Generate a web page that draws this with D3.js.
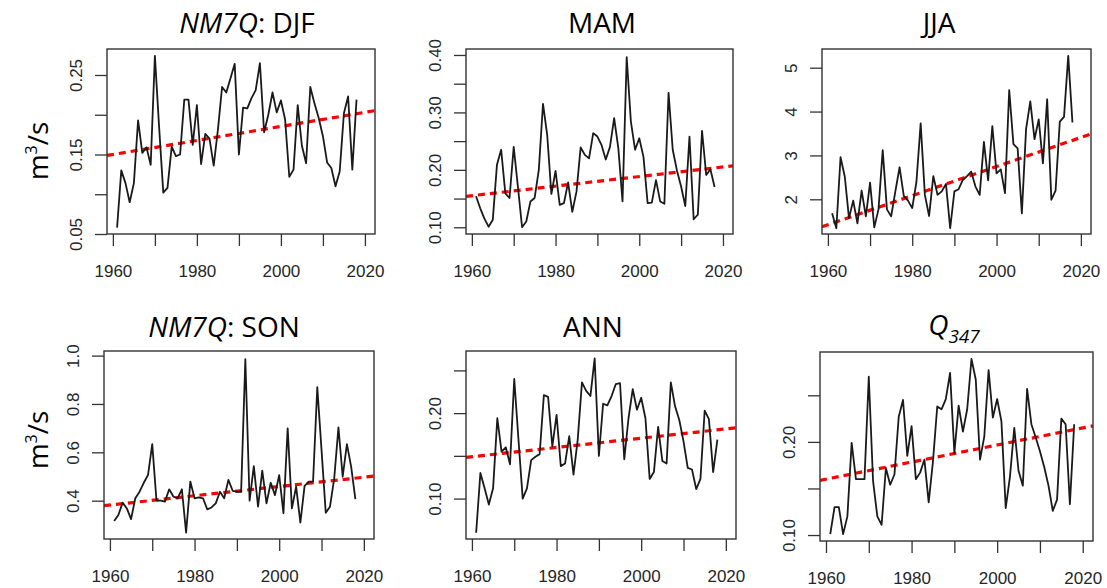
<!DOCTYPE html>
<html>
<head>
<meta charset="utf-8">
<script src="https://cdn.jsdelivr.net/npm/d3@7"></script>
<style>
    body { margin: 0; background: #fff; }
    svg { display: block; }
    .tick line { stroke: #333; stroke-width: 1.3; }
    .tick text { font-family: "Liberation Sans", Arial, sans-serif; font-size: 17px; fill: #262626; }
    .title { font-family: "Open Sans", sans-serif; font-size: 28px; fill: #000; }
</style>
</head>
<body>
<div class="chart"></div>
<script>
const years = d3.range(1961, 2019);

const djf = [0.058, 0.130, 0.114, 0.090, 0.114, 0.193, 0.152, 0.159, 0.137, 0.274,
    0.185, 0.102, 0.108, 0.160, 0.148, 0.150, 0.219, 0.219, 0.162, 0.212,
    0.138, 0.176, 0.170, 0.136, 0.181, 0.235, 0.228, 0.246, 0.264, 0.150,
    0.209, 0.208, 0.221, 0.231, 0.265, 0.178, 0.200, 0.228, 0.203, 0.218,
    0.194, 0.122, 0.131, 0.212, 0.161, 0.139, 0.235, 0.214, 0.196, 0.173,
    0.140, 0.133, 0.110, 0.129, 0.202, 0.223, 0.131, 0.219];

const mam = [0.154, 0.133, 0.115, 0.101, 0.113, 0.209, 0.235, 0.159, 0.151, 0.240,
    0.171, 0.100, 0.110, 0.145, 0.151, 0.200, 0.315, 0.261, 0.158, 0.198,
    0.139, 0.142, 0.178, 0.127, 0.162, 0.239, 0.226, 0.220, 0.264, 0.258,
    0.243, 0.218, 0.240, 0.290, 0.238, 0.145, 0.396, 0.284, 0.235, 0.255,
    0.223, 0.142, 0.143, 0.182, 0.145, 0.141, 0.334, 0.235, 0.199, 0.171,
    0.137, 0.258, 0.114, 0.122, 0.268, 0.191, 0.201, 0.170];

const jja = [1.68, 1.34, 2.96, 2.52, 1.57, 1.97, 1.45, 2.20, 1.61, 2.38,
    1.36, 1.77, 3.12, 1.77, 1.61, 2.18, 2.73, 2.08, 1.97, 1.80,
    2.40, 3.73, 2.10, 1.62, 2.53, 2.10, 2.18, 2.35, 1.34, 2.18,
    2.23, 2.44, 2.53, 2.63, 2.29, 2.10, 3.31, 2.43, 3.67, 2.59,
    2.68, 2.14, 4.49, 3.26, 3.16, 1.68, 3.60, 4.23, 3.37, 3.82,
    2.82, 4.28, 1.99, 2.20, 3.77, 3.88, 5.27, 3.75];

const son = [0.316, 0.341, 0.392, 0.368, 0.324, 0.410, 0.437, 0.474, 0.506, 0.634,
    0.400, 0.400, 0.396, 0.447, 0.417, 0.410, 0.447, 0.268, 0.479, 0.410,
    0.414, 0.410, 0.364, 0.372, 0.389, 0.437, 0.410, 0.486, 0.441, 0.437,
    0.437, 0.985, 0.400, 0.543, 0.375, 0.524, 0.389, 0.474, 0.423, 0.506,
    0.348, 0.699, 0.368, 0.458, 0.309, 0.461, 0.479, 0.479, 0.869, 0.610,
    0.350, 0.375, 0.492, 0.703, 0.499, 0.634, 0.541, 0.406];

const ann = [0.060, 0.130, 0.112, 0.093, 0.112, 0.194, 0.155, 0.160, 0.140, 0.240,
    0.169, 0.100, 0.112, 0.145, 0.149, 0.152, 0.221, 0.219, 0.161, 0.198,
    0.138, 0.141, 0.173, 0.128, 0.169, 0.236, 0.226, 0.220, 0.264, 0.150,
    0.211, 0.209, 0.220, 0.234, 0.235, 0.146, 0.194, 0.228, 0.204, 0.218,
    0.194, 0.123, 0.131, 0.184, 0.144, 0.141, 0.236, 0.208, 0.192, 0.167,
    0.136, 0.134, 0.111, 0.123, 0.203, 0.193, 0.131, 0.169];

const q347 = [0.101, 0.130, 0.130, 0.101, 0.120, 0.199, 0.160, 0.160, 0.160, 0.270,
    0.158, 0.120, 0.111, 0.172, 0.154, 0.165, 0.227, 0.245, 0.185, 0.217,
    0.160, 0.167, 0.181, 0.135, 0.179, 0.238, 0.235, 0.246, 0.274, 0.188,
    0.239, 0.211, 0.235, 0.289, 0.267, 0.181, 0.206, 0.277, 0.226, 0.246,
    0.222, 0.129, 0.163, 0.215, 0.169, 0.153, 0.257, 0.219, 0.205, 0.190,
    0.173, 0.153, 0.126, 0.138, 0.225, 0.219, 0.133, 0.219];

// trend line values read at 1960 and 2020
const trendYears = [1960, 2020];
const trendDJF = [0.150, 0.203];
const trendMAM = [0.155, 0.205];
const trendJJA = [1.42, 3.41];
const trendSON = [0.382, 0.497];
const trendANN = [0.149, 0.1815];
const trendQ347 = [0.160, 0.215];

const xTicks = [1960, 1970, 1980, 1990, 2000, 2010, 2020];
const xTickLabels = ["1960", "", "1980", "", "2000", "", "2020"];

const djfTicks = [0.05, 0.10, 0.15, 0.20, 0.25];
const djfTickLabels = ["0.05", "", "0.15", "", "0.25"];
const mamTicks = [0.10, 0.15, 0.20, 0.25, 0.30, 0.35, 0.40];
const mamTickLabels = ["0.10", "", "0.20", "", "0.30", "", "0.40"];
const jjaTicks = [2, 3, 4, 5];
const jjaTickLabels = ["2", "3", "4", "5"];
const sonTicks = [0.4, 0.6, 0.8, 1.0];
const sonTickLabels = ["0.4", "0.6", "0.8", "1.0"];
const annTicks = [0.10, 0.15, 0.20, 0.25];
const annTickLabels = ["0.10", "", "0.20", ""];
const q347Ticks = [0.10, 0.15, 0.20, 0.25];
const q347TickLabels = ["0.10", "", "0.20", ""];

const width = 1107;
const height = 588;
const xDomain = [1958.6, 2022.4];

const panels = [
    {values: djf, trend: trendDJF, ticks: djfTicks, labels: djfTickLabels,
        left: 107, top: 49, w: 268, h: 185, yDomain: [0.05, 0.2827], titleX: 247, titleY: 33},
    {values: mam, trend: trendMAM, ticks: mamTicks, labels: mamTickLabels,
        left: 466, top: 49, w: 267, h: 185, yDomain: [0.0883, 0.4104], titleX: 602, titleY: 33},
    {values: jja, trend: trendJJA, ticks: jjaTicks, labels: jjaTickLabels,
        left: 822, top: 49, w: 269, h: 185, yDomain: [1.209, 5.426], titleX: 939, titleY: 33},
    {values: son, trend: trendSON, ticks: sonTicks, labels: sonTickLabels,
        left: 104, top: 351, w: 270, h: 188, yDomain: [0.2415, 1.019], titleX: 224, titleY: 337},
    {values: ann, trend: trendANN, ticks: annTicks, labels: annTickLabels,
        left: 466, top: 351, w: 270, h: 188, yDomain: [0.0527, 0.2727], titleX: 593, titleY: 337},
    {values: q347, trend: trendQ347, ticks: q347Ticks, labels: q347TickLabels,
        left: 820, top: 352, w: 273, h: 189, yDomain: [0.0936, 0.2965], titleX: 954, titleY: 335}
];

const svg = d3.select(".chart").append("svg")
    .attr("width", width)
    .attr("height", height)
    .attr("viewBox", [0, 0, width, height]);

function drawPanel(p, i) {
    const x = d3.scaleLinear().domain(xDomain).range([0, p.w]);
    const y = d3.scaleLinear().domain(p.yDomain).range([p.h, 0]);

    const g = svg.append("g")
        .attr("transform", `translate(${p.left},${p.top})`);

    g.append("clipPath")
        .attr("id", "clip" + i)
        .append("rect")
        .attr("width", p.w)
        .attr("height", p.h);

    g.append("g")
        .call(d3.axisLeft(y)
            .tickValues(p.ticks)
            .tickSize(12)
            .tickFormat((d, k) => p.labels[k]))
        .call(a => a.select(".domain").remove())
        .call(a => a.selectAll(".tick text")
            .attr("x", 0)
            .attr("dy", 0)
            .attr("text-anchor", "middle")
            .attr("transform", "translate(-25.5,0) rotate(-90)"));

    g.append("g")
        .attr("transform", `translate(0,${p.h})`)
        .call(d3.axisBottom(x)
            .tickValues(xTicks)
            .tickSize(12)
            .tickFormat((d, k) => xTickLabels[k]))
        .call(a => a.select(".domain").remove())
        .call(a => a.selectAll(".tick text")
            .attr("y", 42.5)
            .attr("dy", 0));

    const trendScale = d3.scaleLinear().domain(trendYears).range(p.trend);

    g.append("path")
        .datum(xDomain)
        .attr("clip-path", `url(#clip${i})`)
        .attr("fill", "none")
        .attr("stroke", "#ff0000")
        .attr("stroke-width", 3.2)
        .attr("stroke-dasharray", "7,5")
        .attr("d", d3.line().x(d => x(d)).y(d => y(trendScale(d))));

    g.append("path")
        .datum(p.values)
        .attr("fill", "none")
        .attr("stroke", "#1a1a1a")
        .attr("stroke-width", 1.8)
        .attr("stroke-linejoin", "round")
        .attr("d", d3.line().x((d, k) => x(years[k])).y(d => y(d)));

    g.append("rect")
        .attr("width", p.w)
        .attr("height", p.h)
        .attr("fill", "none")
        .attr("stroke", "#333")
        .attr("stroke-width", 1.4);
}

panels.forEach(drawPanel);

function addTitle(p, parts) {
    const t = svg.append("text")
        .attr("class", "title")
        .attr("x", p.titleX)
        .attr("y", p.titleY)
        .attr("text-anchor", "middle");
    parts.forEach(s => {
        const sp = t.append("tspan").text(s.text);
        if (s.italic) sp.attr("font-style", "italic");
        if (s.size) sp.attr("font-size", s.size);
        if (s.dy) sp.attr("dy", s.dy);
    });
}

addTitle(panels[0], [{text: "NM7Q", italic: true}, {text: ": DJF"}]);
addTitle(panels[1], [{text: "MAM"}]);
addTitle(panels[2], [{text: "JJA"}]);
addTitle(panels[3], [{text: "NM7Q", italic: true}, {text: ": SON"}]);
addTitle(panels[4], [{text: "ANN"}]);
addTitle(panels[5], [{text: "Q", italic: true}, {text: "347", italic: true, size: "19px", dy: 8}]);

function addUnitLabel(cy) {
    const t = svg.append("text")
        .attr("class", "title")
        .attr("font-size", "26px")
        .attr("text-anchor", "middle")
        .attr("transform", `translate(48,${cy}) rotate(-90)`);
    t.append("tspan").text("m");
    t.append("tspan").attr("font-size", "16px").attr("dy", -11).text("3");
    t.append("tspan").attr("dy", 11).text("/s");
}

addUnitLabel(151);
addUnitLabel(440);
</script>
</body>
</html>
